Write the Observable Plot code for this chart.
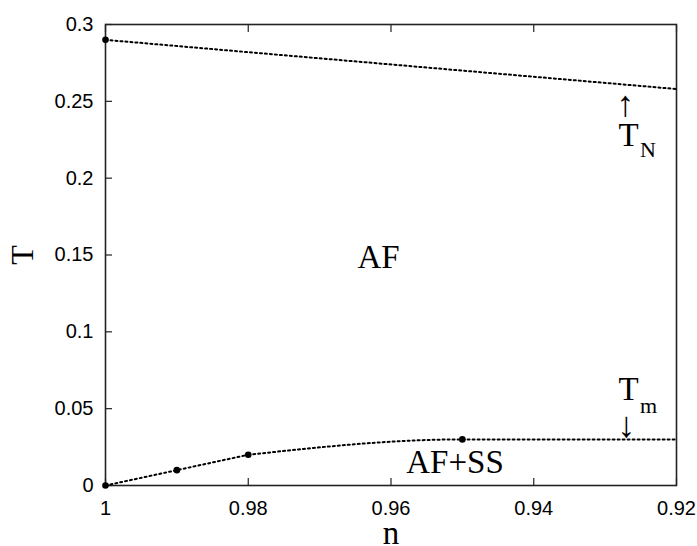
<!DOCTYPE html>
<html>
<head>
<meta charset="utf-8">
<script src="https://cdn.jsdelivr.net/npm/d3@7"></script>
<script src="https://cdn.jsdelivr.net/npm/@observablehq/plot@0.6"></script>
<style>
  html, body { margin: 0; padding: 0; background: #fff; }
</style>
</head>
<body>
<div id="chart"></div>
<script>
// Data
const tnN = [1, 0.92];
const tnT = [0.29, 0.258];
const tnPointN = [1];
const tnPointT = [0.29];
// T_m: straight segment up to 0.98, then smooth curve levelling off
const tmLinN = [1, 0.99, 0.98];
const tmLinT = [0, 0.01, 0.02];
const tmCurveN = [0.98, 0.95, 0.92];
const tmCurveT = [0.02, 0.03, 0.03];
const tmPointN = [1, 0.99, 0.98, 0.95];
const tmPointT = [0, 0.01, 0.02, 0.03];
const xTicks = [1, 0.98, 0.96, 0.94, 0.92];
const yTicks = [0, 0.05, 0.1, 0.15, 0.2, 0.25, 0.3];

// Annotation labels (data coordinates)
const bigLabels = [
  {n: 0.96175, T: 0.1484, text: "AF"},
  {n: 0.95103, T: 0.0153, text: "AF+SS"},
  {n: 0.92673, T: 0.2279, text: "T"},
  {n: 0.92673, T: 0.0628, text: "T"}
];
const subLabels = [
  {n: 0.92399, T: 0.2181, text: "N"},
  {n: 0.92392, T: 0.0518, text: "m"}
];
const arrows = [
  {n: 0.92715, T: 0.2480, text: "↑"},
  {n: 0.92700, T: 0.0390, text: "↓"}
];

const pairs = (xs, ys) => xs.map((n, i) => ({n, T: ys[i]}));
const tnLine = pairs(tnN, tnT);
const tnPts = pairs(tnPointN, tnPointT);
const tmLin = pairs(tmLinN, tmLinT);
const tmCurve = pairs(tmCurveN, tmCurveT);
const tmPts = pairs(tmPointN, tmPointT);

const serif = "Liberation Serif, Times New Roman, serif";
const sans = "Liberation Sans, Arial, Helvetica, sans-serif";
const dotted = {stroke: "#000", strokeWidth: 2, strokeDasharray: "2,3"};

const chart = Plot.plot({
  width: 697,
  height: 546,
  marginLeft: 105,
  marginRight: 21,
  marginTop: 24,
  marginBottom: 61,
  style: {background: "#fff", color: "#000", fontFamily: sans},
  x: {domain: [1, 0.92], ticks: xTicks},
  y: {domain: [0, 0.3], ticks: yTicks},
  marks: [
    Plot.axisY({ticks: yTicks, anchor: "left", tickSize: -7, tickPadding: 19, fontSize: 20, label: null, tickFormat: d => d3.format("")(d), stroke: "#222", strokeWidth: 1.2}),
    Plot.axisX({ticks: xTicks, anchor: "bottom", tickSize: -7, tickPadding: 22, fontSize: 20, label: null, tickFormat: d => d3.format("")(d), stroke: "#222", strokeWidth: 1.2}),
    Plot.axisX({ticks: xTicks, anchor: "top", tickSize: -7, tickFormat: () => "", label: null, stroke: "#222", strokeWidth: 1.2}),
    Plot.frame({stroke: "#222", strokeWidth: 1.6}),
    Plot.line(tnLine, {x: "n", y: "T", ...dotted}),
    Plot.line(tmLin, {x: "n", y: "T", ...dotted}),
    Plot.line(tmCurve, {x: "n", y: "T", curve: "monotone-x", ...dotted}),
    Plot.dot(tnPts, {x: "n", y: "T", r: 3.3, fill: "#000"}),
    Plot.dot(tmPts, {x: "n", y: "T", r: 3.3, fill: "#000"}),
    Plot.text(bigLabels, {x: "n", y: "T", text: "text", fontFamily: serif, fontSize: 33, fill: "#000", textAnchor: "middle", lineAnchor: "middle"}),
    Plot.text(subLabels, {x: "n", y: "T", text: "text", fontFamily: serif, fontSize: 22, fill: "#000", textAnchor: "middle", lineAnchor: "middle"}),
    Plot.text(arrows, {x: "n", y: "T", text: "text", fontFamily: serif, fontSize: 36, fontWeight: 300, fill: "#000", textAnchor: "middle", lineAnchor: "middle"}),
    Plot.text(["T"], {frameAnchor: "left", dx: -83, rotate: -90, text: d => d, fontFamily: serif, fontSize: 32, fill: "#000", textAnchor: "middle", lineAnchor: "middle"}),
    Plot.text(["n"], {frameAnchor: "bottom", dy: 58, text: d => d, fontFamily: serif, fontSize: 33, fill: "#000", textAnchor: "middle", lineAnchor: "bottom"})
  ]
});
document.getElementById("chart").appendChild(chart);
</script>
</body>
</html>
